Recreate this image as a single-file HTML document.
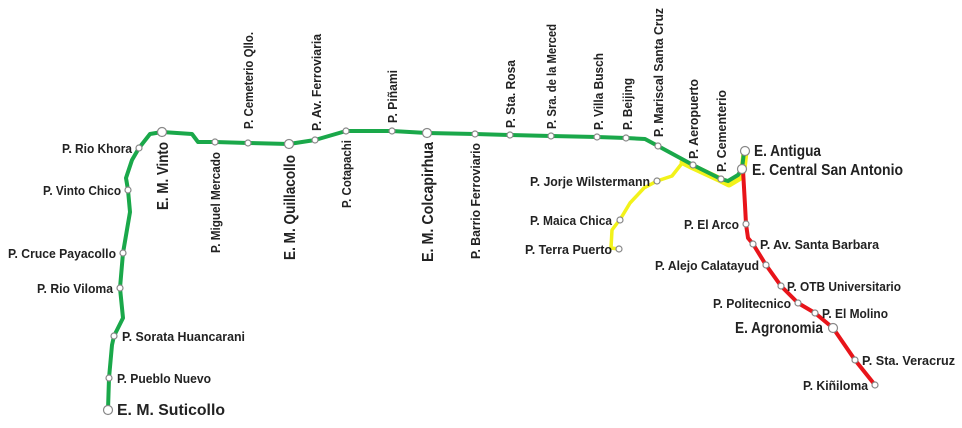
<!DOCTYPE html>
<html><head><meta charset="utf-8"><style>
html,body{margin:0;padding:0;background:#fff;}
svg{display:block;}
text{font-family:"Liberation Sans Narrow","Liberation Sans",sans-serif;font-weight:bold;fill:#222;font-size:13px;}
.b{font-size:16px;}
</style></head><body>
<svg width="962" height="428" viewBox="0 0 962 428" xmlns="http://www.w3.org/2000/svg">
<g fill="none" stroke-linejoin="round" stroke-linecap="round">
<path d="M683,162 L693,167 L721,180 L729,184 L739,178 L743,170 L745,152" stroke="#f2f21a" stroke-width="7"/>
<path d="M683,162 L672,176 L657,181 L644,188 L630,203 L621,218 L612,230 L611,248 L619,249" stroke="#f2f21a" stroke-width="3.5"/>
<path d="M108,410 L109,378 L112,345 L114,336 L123,318 L120,288 L123,253 L130,212 L128,190 L126,178 L132,160 L139,148 L150,134 L162,132 L192,134 L198,142 L215,142 L248,143 L289,144 L315,140 L346,131 L392,131 L427,133 L475,134 L510,135 L551,136 L597,137 L626,138 L645,139 L658,146 L693,165 L721,179 L728,181 L738,175 L742,169 L744,152" stroke="#1aa84a" stroke-width="4"/>
<path d="M743,170 L745,205 L746,224 L748,238 L753,244 L766,265 L781,286 L798,303 L815,313 L833,328 L855,360 L875,385" stroke="#e8141a" stroke-width="4"/>
</g>
<g fill="#fff" stroke="#888" stroke-width="1.2">
<circle cx="108" cy="410" r="4.5"/><circle cx="109" cy="378" r="3"/><circle cx="114" cy="336" r="3"/><circle cx="120" cy="288" r="3"/><circle cx="123" cy="253" r="3"/><circle cx="128" cy="190" r="3"/><circle cx="139" cy="148" r="3"/><circle cx="162" cy="132" r="4.5"/>
<circle cx="215" cy="142" r="3"/><circle cx="248" cy="143" r="3"/><circle cx="289" cy="144" r="4.5"/><circle cx="315" cy="140" r="3"/><circle cx="346" cy="131" r="3"/><circle cx="392" cy="131" r="3"/><circle cx="427" cy="133" r="4.5"/><circle cx="475" cy="134" r="3"/><circle cx="510" cy="135" r="3"/><circle cx="551" cy="136" r="3"/><circle cx="597" cy="137" r="3"/><circle cx="626" cy="138" r="3"/><circle cx="658" cy="146" r="3"/><circle cx="693" cy="165" r="3"/><circle cx="721" cy="179" r="3"/>
<circle cx="745" cy="151" r="4.5"/><circle cx="742" cy="169" r="4.5"/>
<circle cx="657" cy="181" r="3"/><circle cx="620" cy="220" r="3"/><circle cx="619" cy="249" r="3"/>
<circle cx="746" cy="224" r="3"/><circle cx="753" cy="244" r="3"/><circle cx="766" cy="265" r="3"/><circle cx="781" cy="286" r="3"/><circle cx="798" cy="303" r="3"/><circle cx="815" cy="313" r="3"/><circle cx="833" cy="328" r="4.5"/><circle cx="855" cy="360" r="3"/><circle cx="875" cy="385" r="3"/>
</g>
<g>
<text x="62" y="153" textLength="70" lengthAdjust="spacingAndGlyphs">P. Rio Khora</text>
<text x="43" y="195" textLength="78" lengthAdjust="spacingAndGlyphs">P. Vinto Chico</text>
<text x="8" y="258" textLength="108" lengthAdjust="spacingAndGlyphs">P. Cruce Payacollo</text>
<text x="37" y="293" textLength="76" lengthAdjust="spacingAndGlyphs">P. Rio Viloma</text>
<text x="122" y="341" textLength="123" lengthAdjust="spacingAndGlyphs">P. Sorata Huancarani</text>
<text x="117" y="383" textLength="94" lengthAdjust="spacingAndGlyphs">P. Pueblo Nuevo</text>
<text x="117" y="415" class="b" textLength="108" lengthAdjust="spacingAndGlyphs">E. M. Suticollo</text>
<text x="530" y="186" textLength="120" lengthAdjust="spacingAndGlyphs">P. Jorje Wilstermann</text>
<text x="530" y="225" textLength="82" lengthAdjust="spacingAndGlyphs">P. Maica Chica</text>
<text x="525" y="254" textLength="87" lengthAdjust="spacingAndGlyphs">P. Terra Puerto</text>
<text x="754" y="156" class="b" textLength="67" lengthAdjust="spacingAndGlyphs">E. Antigua</text>
<text x="752" y="175" class="b" textLength="151" lengthAdjust="spacingAndGlyphs">E. Central San Antonio</text>
<text x="684" y="229" textLength="55" lengthAdjust="spacingAndGlyphs">P. El Arco</text>
<text x="760" y="249" textLength="119" lengthAdjust="spacingAndGlyphs">P. Av. Santa Barbara</text>
<text x="655" y="270" textLength="104" lengthAdjust="spacingAndGlyphs">P. Alejo Calatayud</text>
<text x="787" y="291" textLength="114" lengthAdjust="spacingAndGlyphs">P. OTB Universitario</text>
<text x="713" y="308" textLength="78" lengthAdjust="spacingAndGlyphs">P. Politecnico</text>
<text x="822" y="318" textLength="66" lengthAdjust="spacingAndGlyphs">P. El Molino</text>
<text x="735" y="333" class="b" textLength="88" lengthAdjust="spacingAndGlyphs">E. Agronomia</text>
<text x="862" y="365" textLength="93" lengthAdjust="spacingAndGlyphs">P. Sta. Veracruz</text>
<text x="803" y="390" textLength="65" lengthAdjust="spacingAndGlyphs">P. Kiñiloma</text>

<text transform="translate(253,129) rotate(-90)" textLength="97" lengthAdjust="spacingAndGlyphs">P. Cemeterio Qllo.</text>
<text transform="translate(321,131) rotate(-90)" textLength="97" lengthAdjust="spacingAndGlyphs">P. Av. Ferroviaria</text>
<text transform="translate(397,123) rotate(-90)" textLength="53" lengthAdjust="spacingAndGlyphs">P. Piñami</text>
<text transform="translate(515,128) rotate(-90)" textLength="68" lengthAdjust="spacingAndGlyphs">P. Sta. Rosa</text>
<text transform="translate(556,129) rotate(-90)" textLength="105" lengthAdjust="spacingAndGlyphs">P. Sra. de la Merced</text>
<text transform="translate(603,130) rotate(-90)" textLength="77" lengthAdjust="spacingAndGlyphs">P. Villa Busch</text>
<text transform="translate(632,130) rotate(-90)" textLength="52" lengthAdjust="spacingAndGlyphs">P. Beijing</text>
<text transform="translate(663,137) rotate(-90)" textLength="129" lengthAdjust="spacingAndGlyphs">P. Mariscal Santa Cruz</text>
<text transform="translate(698,159) rotate(-90)" textLength="80" lengthAdjust="spacingAndGlyphs">P. Aeropuerto</text>
<text transform="translate(726,172) rotate(-90)" textLength="82" lengthAdjust="spacingAndGlyphs">P. Cementerio</text>

<text class="b" transform="translate(168,210) rotate(-90)" textLength="68" lengthAdjust="spacingAndGlyphs">E. M. Vinto</text>
<text transform="translate(220,253) rotate(-90)" textLength="101" lengthAdjust="spacingAndGlyphs">P. Miguel Mercado</text>
<text class="b" transform="translate(295,260) rotate(-90)" textLength="105" lengthAdjust="spacingAndGlyphs">E. M. Quillacollo</text>
<text transform="translate(351,208) rotate(-90)" textLength="68" lengthAdjust="spacingAndGlyphs">P. Cotapachi</text>
<text class="b" transform="translate(433,262) rotate(-90)" textLength="120" lengthAdjust="spacingAndGlyphs">E. M. Colcapirhua</text>
<text transform="translate(480,259) rotate(-90)" textLength="116" lengthAdjust="spacingAndGlyphs">P. Barrio Ferroviario</text>
</g>
</svg>
</body></html>
